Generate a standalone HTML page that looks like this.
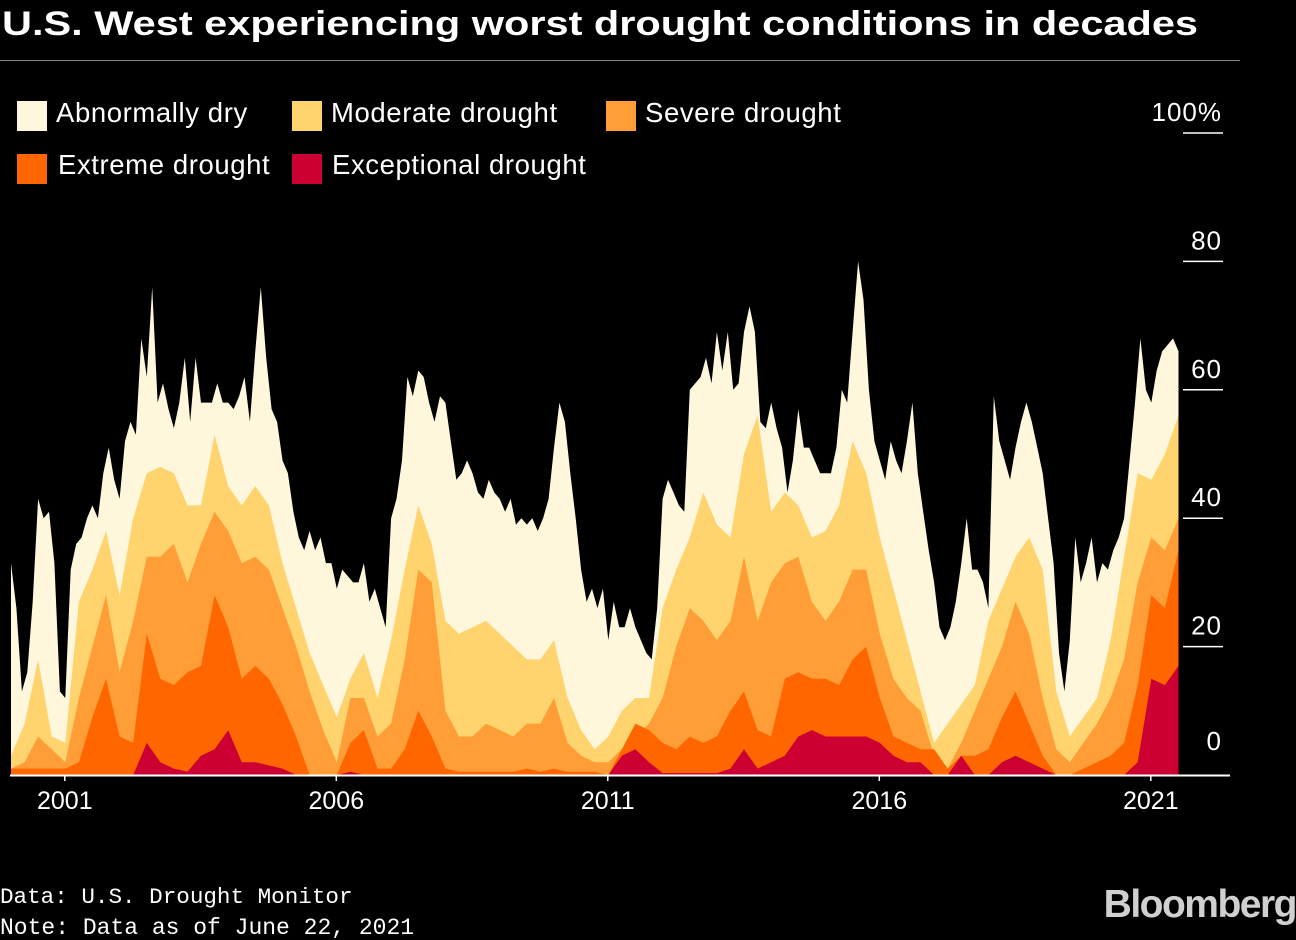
<!DOCTYPE html>
<html><head><meta charset="utf-8">
<style>
html,body{margin:0;padding:0;background:#000;width:1296px;height:940px;overflow:hidden}
svg{display:block}
text{font-family:"Liberation Sans",sans-serif;fill:#fff}
</style></head>
<body>
<svg id="chart" width="1296" height="940" viewBox="0 0 1296 940" xmlns="http://www.w3.org/2000/svg">
  <rect width="1296" height="940" fill="#000"/>
  <text x="2" y="35" font-size="34.5" font-weight="bold" textLength="1196" lengthAdjust="spacingAndGlyphs">U.S. West experiencing worst drought conditions in decades</text>
  <line x1="0" y1="60.5" x2="1240" y2="60.5" stroke="#8a8a8a" stroke-width="1"/>
  <g id="legend" font-size="27.5" letter-spacing="0.6">
    <g><rect x="17" y="101" width="30" height="30" fill="#fff7dc"/><text x="56" y="122">Abnormally dry</text></g>
    <g><rect x="292" y="101" width="30" height="30" fill="#ffd36e"/><text x="331" y="122">Moderate drought</text></g>
    <g><rect x="606" y="101" width="30" height="30" fill="#ff9d36"/><text x="645" y="122">Severe drought</text></g>
    <g><rect x="17" y="154" width="30" height="30" fill="#ff6600"/><text x="58" y="174">Extreme drought</text></g>
    <g><rect x="292" y="154" width="30" height="30" fill="#cc0033"/><text x="332" y="174">Exceptional drought</text></g>
  </g>
  <g id="areas"></g>
  <g id="yaxis"></g>
  <g id="xaxis"></g>
  <text x="0" y="903" font-size="22.6" style="font-family:'Liberation Mono',monospace">Data: U.S. Drought Monitor</text>
  <text x="0" y="934" font-size="23" style="font-family:'Liberation Mono',monospace">Note: Data as of June 22, 2021</text>
  <text x="1296" y="917" font-size="39" font-weight="bold" text-anchor="end" letter-spacing="-1.5" style="fill:#d0d0d0">Bloomberg</text>
</svg>
<script>
// ---- data ----
const totalStart = 2000.0;
const totalStep = 0.1;
// Abnormally dry or worse (D0+), % of area
const d0Plus = [33,26,13,16,27,43,40,41,33,13,12,32,36,37,40,42,40,47,51,46,43,52,55,53,68,62,76,58,61,57,54,58,65,55,65,58,58,58,61,58,58,57,59,62,55,66,76,65,57,55,49,47,41,37,35,38,35,37,33,33,29,32,31,30,30,33,27,29,26,23,40,43,49,62,59,63,62,58,55,59,58,52,46,47,49,47,44,43,46,44,43,41,43,39,40,39,40,38,40,43,51,58,55,47,40,32,27,29,26,29,21,27,23,23,26,23,21,19,18,26,43,46,44,42,41,60,61,62,65,61,69,63,69,60,61,69,73,69,55,54,58,54,51,44,49,57,51,51,49,47,47,47,51,60,58,69,80,74,60,52,49,46,52,49,47,52,58,47,41,35,30,23,21,23,27,33,40,32,32,30,26,59,52,49,46,51,55,58,55,51,47,40,33,19,13,21,37,30,33,37,30,33,32,35,37,40,49,58,68,60,58,63,66,67,68,66];
const layerStart = 2000.0;
const layerStep = 0.25;
// Moderate drought or worse (D1+)
const d1Plus = [3,8,18,6,5,27,32,38,28,40,47,48,47,42,42,53,45,42,45,42,33,26,19,14,9,15,19,12,21,32,42,36,24,22,23,24,22,20,18,18,21,12,7,4,6,10,12,12,26,32,37,44,39,37,50,56,41,44,42,37,38,42,52,47,37,29,21,13,5,8,11,14,24,29,34,37,32,13,6,9,12,21,34,47,46,50,56];
// Severe drought or worse (D2+)
const d2Plus = [1,2,6,4,2,12,20,28,16,24,34,34,36,30,36,41,38,33,34,32,26,20,13,7,2,12,12,6,8,18,32,30,10,6,6,8,7,6,8,8,12,5,3,2,2,4,6,8,12,20,26,24,21,24,34,24,30,33,34,27,24,27,32,32,22,15,12,10,3,1,5,10,15,20,27,22,12,4,2,5,8,12,18,30,37,35,40];
// Extreme drought or worse (D3+)
const d3Plus = [1,1,1,1,1,2,9,15,6,5,22,15,14,16,17,28,23,15,17,15,11,6,0,0,0,5,7,1,1,4,10,6,1,0.5,0.5,0.5,0.5,0.5,1,0.5,1,0.5,0.5,0.5,0,4,8,7,5,4,6,5,6,10,13,7,6,15,16,15,15,14,18,20,12,6,5,4,4,1,3,3,4,9,13,8,3,0,0,1,2,3,5,14,28,26,35];
// Exceptional drought (D4)
const d4 = [0,0,0,0,0,0,0,0,0,0,5,2,1,0.5,3,4,7,2,2,1.5,1,0,0,0,0,0.5,0,0,0,0,0,0,0,0,0,0,0,0,0,0,0,0,0,0,0,3,4,2,0.3,0.3,0.3,0.3,0.3,1,4,1,2,3,6,7,6,6,6,6,5,3,2,2,0,0,3,0,0,2,3,2,1,0,0,0,0,0,0,2,15,14,17];
const yTicks = [0,20,40,60,80,100];
const yTickLabels = ["0","20","40","60","80","100%"];
const xTicks = [2001,2006,2011,2016,2021];

// ---- scales ----
const X0 = 11, PX_PER_YEAR = 54.3, Y0 = 775, PX_PER_PCT = 6.42;
function xScale(yr){ return X0 + (yr - 2000) * PX_PER_YEAR; }
function yScale(v){ return Y0 - v * PX_PER_PCT; }

const NS = "http://www.w3.org/2000/svg";
const areas = document.getElementById('areas');
function drawArea(vals, start, step, color, name){
  let d = "M" + xScale(start).toFixed(1) + "," + Y0;
  vals.forEach(function(v, i){
    d += "L" + xScale(start + i*step).toFixed(1) + "," + yScale(v).toFixed(1);
  });
  d += "L" + xScale(start + (vals.length-1)*step).toFixed(1) + "," + Y0 + "Z";
  const p = document.createElementNS(NS, 'path');
  p.setAttribute('d', d);
  p.setAttribute('fill', color);
  
  
  areas.appendChild(p);
}
drawArea(d0Plus, totalStart, totalStep, '#fff7dc', 'area-abnormally-dry');
drawArea(d1Plus, layerStart, layerStep, '#ffd36e', 'area-moderate-drought');
drawArea(d2Plus, layerStart, layerStep, '#ff9d36', 'area-severe-drought');
drawArea(d3Plus, layerStart, layerStep, '#ff6600', 'area-extreme-drought');
drawArea(d4, layerStart, layerStep, '#cc0033', 'area-exceptional-drought');

// y axis
const yg = document.getElementById('yaxis');
yTicks.forEach(function(t, i){
  const y = yScale(t);
  if (t > 0) {
    const l = document.createElementNS(NS, 'line');
    l.setAttribute('x1', 1183); l.setAttribute('x2', 1223);
    l.setAttribute('y1', y); l.setAttribute('y2', y);
    l.setAttribute('stroke', '#fff'); l.setAttribute('stroke-width', '1.5');
    
    
    yg.appendChild(l);
  }
  const tx = document.createElementNS(NS, 'text');
  tx.setAttribute('x', 1222);
  tx.setAttribute('y', t > 0 ? y - 12 : y - 25);
  tx.setAttribute('text-anchor', 'end');
  tx.setAttribute('font-size', '26');
  tx.setAttribute('letter-spacing', '1');
  tx.textContent = yTickLabels[i];
  
  
  yg.appendChild(tx);
});

// x axis
const xg = document.getElementById('xaxis');
const axisLine = document.createElementNS(NS, 'line');
axisLine.setAttribute('x1', 10); axisLine.setAttribute('x2', 1230);
axisLine.setAttribute('y1', 775.5); axisLine.setAttribute('y2', 775.5);
axisLine.setAttribute('stroke', '#fff'); axisLine.setAttribute('stroke-width', '2');


xg.appendChild(axisLine);
xTicks.forEach(function(t){
  const x = xScale(t) - 0.5;
  const tk = document.createElementNS(NS, 'line');
  tk.setAttribute('x1', x); tk.setAttribute('x2', x);
  tk.setAttribute('y1', 775); tk.setAttribute('y2', 781);
  tk.setAttribute('stroke', '#fff'); tk.setAttribute('stroke-width', '1.5');
  
  
  xg.appendChild(tk);
  const tx = document.createElementNS(NS, 'text');
  tx.setAttribute('x', x);
  tx.setAttribute('y', 809);
  tx.setAttribute('text-anchor', 'middle');
  tx.setAttribute('font-size', '25');
  tx.textContent = String(t);
  
  
  xg.appendChild(tx);
});
</script>
</body></html>
